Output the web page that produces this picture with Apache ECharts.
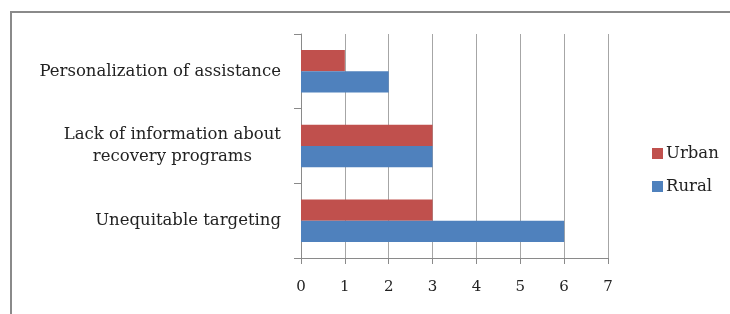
<!DOCTYPE html>
<html>
<head>
<meta charset="utf-8">
<script src="https://cdn.jsdelivr.net/npm/echarts@6/dist/echarts.min.js"></script>
<style>
html,body{margin:0;padding:0;background:#fff;}
#c{width:730px;height:314px;}
</style>
</head>
<body>
<div id="c"></div>
<script>
var categories = ['Unequitable targeting', 'Lack of information about recovery programs', 'Personalization of assistance'];
var categoryLabels = ['Unequitable targeting', 'Lack of information about\nrecovery programs', 'Personalization of assistance'];
var seriesNames = ['Urban', 'Rural'];
var urbanValues = [3, 3, 1];
var ruralValues = [6, 3, 2];
var xTicks = [0, 1, 2, 3, 4, 5, 6, 7];

var FONT = 'DejaVu Serif';
var chart = echarts.init(document.getElementById('c'));
chart.setOption({
  animation: false,
  backgroundColor: '#fff',
  graphic: [{
    type: 'rect',
    shape: { x: 11, y: 12, width: 800, height: 400 },
    style: { fill: 'none', stroke: '#8a8a8a', lineWidth: 2 },
    silent: true
  }],
  grid: { left: 301, right: 122, top: 34, bottom: 56, containLabel: false },
  legend: {
    orient: 'vertical',
    left: 647,
    top: 140,
    data: seriesNames,
    itemWidth: 11,
    itemHeight: 11,
    itemGap: 16,
    icon: 'rect',
    textStyle: { fontFamily: FONT, fontSize: 16.5, color: '#222', padding: [0, 0, 0, -2] }
  },
  xAxis: {
    type: 'value',
    min: xTicks[0],
    max: xTicks[xTicks.length - 1],
    interval: 1,
    axisLine: { show: true, lineStyle: { color: '#8a8a8a', width: 1 } },
    axisTick: { show: true, length: 6, lineStyle: { color: '#8a8a8a' } },
    splitLine: { show: true, lineStyle: { color: '#a6a6a6', width: 1 } },
    axisLabel: { fontFamily: FONT, fontSize: 15, color: '#222', margin: 22 }
  },
  yAxis: {
    type: 'category',
    data: categories,
    axisLine: { show: true, lineStyle: { color: '#8a8a8a', width: 1 } },
    axisTick: { show: true, length: 7, lineStyle: { color: '#8a8a8a' } },
    axisLabel: {
      margin: 20,
      fontFamily: FONT,
      fontSize: 16.5,
      color: '#222',
      lineHeight: 22,
      formatter: function (v, i) {
        var lines = categoryLabels[i].split('\n');
        return lines.map(function (l) { return '{c|' + l + '}'; }).join('\n');
      },
      rich: { c: { align: 'center', fontFamily: FONT, fontSize: 16.5, color: '#222', lineHeight: 22 } }
    }
  },
  series: [
    {
      name: 'Urban', type: 'bar', data: urbanValues,
      itemStyle: { color: '#C0504D' },
      barGap: '0%', barCategoryGap: '43%'
    },
    {
      name: 'Rural', type: 'bar', data: ruralValues,
      itemStyle: { color: '#4F81BD' },
      barGap: '0%', barCategoryGap: '43%'
    }
  ]
});
</script>
</body>
</html>
